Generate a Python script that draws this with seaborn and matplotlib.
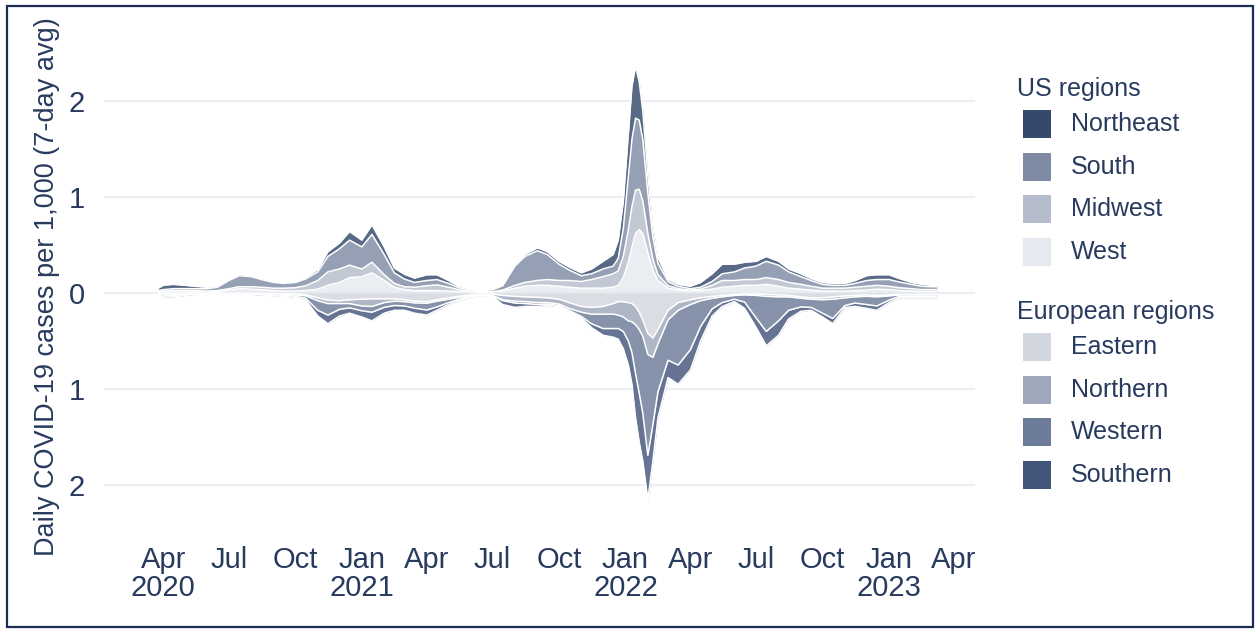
import matplotlib
matplotlib.use("Agg")
import matplotlib.pyplot as plt
from matplotlib.patches import Rectangle
from matplotlib.ticker import FuncFormatter
import numpy as np
import pandas as pd
import seaborn as sns

# ---------------------------------------------------------------------------
# Daily COVID-19 cases per 1,000 (7-day average), stacked by region.
# US regions stack upward, European regions stack downward.
# ---------------------------------------------------------------------------
dates = pd.to_datetime([
    # 2020
    "2020-03-25", "2020-04-01", "2020-04-15", "2020-05-01", "2020-05-15",
    "2020-06-01", "2020-06-15", "2020-07-01", "2020-07-15", "2020-08-01",
    "2020-08-15", "2020-09-01", "2020-09-15", "2020-10-01", "2020-10-15",
    "2020-11-01", "2020-11-15", "2020-12-01", "2020-12-15",
    # 2021
    "2021-01-01", "2021-01-15", "2021-02-01", "2021-02-15", "2021-03-01",
    "2021-03-15", "2021-04-01", "2021-04-15", "2021-05-01", "2021-05-15",
    "2021-06-01", "2021-06-15", "2021-07-01", "2021-07-15", "2021-08-01",
    "2021-08-15", "2021-09-01", "2021-09-15", "2021-10-01", "2021-10-15",
    "2021-11-01", "2021-11-15", "2021-12-01", "2021-12-15", "2021-12-22",
    "2021-12-29",
    # 2022
    "2022-01-05", "2022-01-10", "2022-01-15", "2022-01-20", "2022-01-25",
    "2022-02-01", "2022-02-08", "2022-02-15", "2022-03-01", "2022-03-15",
    "2022-04-01", "2022-04-15", "2022-05-01", "2022-05-15", "2022-06-01",
    "2022-06-15", "2022-07-01", "2022-07-15", "2022-08-01", "2022-08-15",
    "2022-09-01", "2022-09-15", "2022-10-01", "2022-10-15", "2022-11-01",
    "2022-11-15", "2022-12-01", "2022-12-15",
    # 2023
    "2023-01-01", "2023-01-15", "2023-02-01", "2023-02-15", "2023-03-01",
    "2023-03-08",
])

# US regions (stacked upward, West nearest the zero line)
us_west = [
    .01, .01, .01, .01, .01, .01, .015, .03, .045, .04,
    .035, .025, .02, .02, .025, .04, .08, .11, .16,
    .17, .21, .13, .06, .035, .025, .025, .025, .02, .015,
    .01, .008, .01, .02, .05, .07, .08, .08, .07, .06,
    .05, .05, .05, .06, .08, .16,
    .32, .48, .62, .66, .62, .42, .24, .13, .05, .03,
    .02, .025, .04, .06, .07, .08, .08, .09, .07, .05,
    .04, .03, .02, .02, .02, .025, .03, .04,
    .035, .025, .02, .015, .015, .015,
]
us_midwest = [
    .005, .01, .015, .015, .015, .01, .01, .015, .02, .025,
    .025, .025, .03, .035, .05, .09, .14, .14, .13,
    .08, .11, .06, .04, .03, .035, .05, .06, .04, .02,
    .01, .005, .005, .01, .03, .04, .05, .06, .06, .07,
    .07, .09, .12, .14, .15, .22,
    .34, .42, .45, .42, .34, .20, .11, .06, .025, .015,
    .01, .015, .04, .07, .06, .06, .06, .07, .07, .06,
    .05, .04, .03, .03, .03, .035, .04, .04,
    .035, .03, .025, .02, .02, .02,
]
us_south = [
    .01, .015, .02, .02, .02, .025, .035, .085, .115, .105,
    .08, .06, .05, .055, .07, .09, .16, .21, .26,
    .23, .29, .21, .11, .08, .05, .055, .055, .04, .02,
    .01, .012, .02, .045, .20, .27, .31, .26, .17, .11,
    .06, .06, .08, .08, .13, .29,
    .55, .70, .75, .72, .64, .42, .23, .12, .045, .025,
    .015, .02, .04, .07, .09, .12, .14, .17, .15, .11,
    .08, .06, .04, .03, .03, .04, .06, .06,
    .07, .06, .045, .035, .03, .03,
]
us_northeast = [
    .025, .045, .045, .035, .025, .015, .01, .01, .01, .01,
    .01, .01, .01, .01, .015, .025, .05, .06, .09,
    .07, .10, .08, .05, .05, .045, .06, .05, .03, .015,
    .01, .005, .005, .005, .02, .02, .03, .03, .03, .03,
    .03, .05, .08, .12, .19, .28,
    .44, .55, .54, .40, .30, .18, .10, .06, .02, .02,
    .025, .05, .08, .10, .08, .06, .05, .05, .04, .03,
    .03, .02, .02, .02, .02, .03, .05, .05,
    .05, .035, .02, .02, .015, .015,
]

# European regions (stacked downward, Eastern nearest the zero line)
eu_eastern = [
    .004, .005, .007, .007, .006, .005, .005, .005, .005, .005,
    .006, .007, .009, .012, .018, .05, .075, .08, .07,
    .065, .06, .06, .06, .07, .085, .09, .07, .05, .035,
    .018, .01, .01, .025, .035, .04, .045, .05, .065, .10,
    .14, .15, .14, .11, .09, .09,
    .10, .11, .14, .20, .28, .42, .47, .38, .18, .10,
    .07, .05, .035, .025, .015, .01, .01, .015, .02, .025,
    .04, .05, .05, .04, .03, .025, .02, .025,
    .02, .015, .015, .015, .015, .015,
]
eu_northern = [
    .002, .005, .006, .005, .003, .002, .001, .001, .001, .001,
    .002, .003, .005, .007, .011, .03, .035, .03, .04,
    .07, .08, .04, .025, .02, .018, .017, .015, .015, .012,
    .01, .01, .017, .045, .05, .05, .055, .05, .05, .06,
    .06, .07, .08, .11, .14, .16,
    .19, .19, .19, .18, .17, .22, .20, .15, .10, .08,
    .05, .03, .02, .015, .01, .01, .015, .02, .02, .015,
    .015, .015, .02, .025, .02, .015, .015, .015,
    .01, .005, .005, .005, .005, .005,
]
eu_western = [
    .006, .012, .012, .006, .003, .001, .001, .002, .002, .004,
    .005, .009, .01, .014, .025, .10, .12, .06, .045,
    .05, .06, .05, .045, .045, .055, .07, .06, .035, .02,
    .007, .003, .003, .01, .02, .02, .02, .015, .015, .02,
    .045, .10, .15, .15, .14, .15,
    .21, .32, .51, .66, .80, 1.05, .70, .50, .42, .57,
    .47, .27, .11, .06, .04, .075, .235, .365, .25, .14,
    .09, .085, .14, .20, .08, .065, .085, .095,
    .045, .015, .015, .015, .015, .015,
]
eu_southern = [
    .008, .018, .015, .007, .003, .002, .003, .002, .002, .005,
    .007, .011, .011, .012, .016, .06, .09, .07, .055,
    .065, .09, .06, .05, .045, .052, .053, .035, .02, .013,
    .005, .002, .007, .04, .045, .03, .02, .015, .01, .01,
    .015, .04, .07, .09, .11, .18,
    .25, .33, .46, .51, .50, .46, .38, .27, .18, .20,
    .21, .15, .075, .04, .025, .065, .10, .15, .15, .09,
    .045, .03, .04, .055, .02, .035, .04, .045,
    .025, .015, .015, .015, .015, .015,
]

us_names = ["Northeast", "South", "Midwest", "West"]
eu_names = ["Eastern", "Northern", "Western", "Southern"]

x_ticks = pd.date_range("2020-04-01", "2023-04-01", freq="QS")
x_tick_labels = ["Apr\n2020", "Jul", "Oct", "Jan\n2021", "Apr", "Jul", "Oct",
                 "Jan\n2022", "Apr", "Jul", "Oct", "Jan\n2023", "Apr"]
y_ticks = [-2, -1, 0, 1, 2]

# ---------------------------------------------------------------------------
sns.set_theme(style="white")
plt.rcParams["font.family"] = ["Liberation Sans", "DejaVu Sans"]

INK = "#283a5e"
US_COLORS = {"Northeast": "#35496d", "South": "#7f8ba4",
             "Midwest": "#b5bccb", "West": "#e6e9ef"}
EU_COLORS = {"Eastern": "#d2d6de", "Northern": "#9ea8ba",
             "Western": "#6b7b99", "Southern": "#42557a"}

W, H = 1260, 632
fig = plt.figure(figsize=(W / 100, H / 100), dpi=100)
fig.patch.set_facecolor("white")
ax = fig.add_axes([104 / W, 1 - 538 / H, 871 / W, 490 / H])


def draw_stack(layers, sign):
    base = np.zeros(len(dates))
    for vals, color in layers:
        top = base + np.asarray(vals, dtype=float)
        ax.fill_between(dates, sign * base, sign * top, color=color,
                        lw=0, alpha=0.82, zorder=2)
        sns.lineplot(x=dates, y=sign * top, color="white", lw=1.1,
                     ax=ax, zorder=3, legend=False)
        base = top


draw_stack([(us_west, US_COLORS["West"]), (us_midwest, US_COLORS["Midwest"]),
            (us_south, US_COLORS["South"]),
            (us_northeast, US_COLORS["Northeast"])], 1)
draw_stack([(eu_eastern, EU_COLORS["Eastern"]),
            (eu_northern, EU_COLORS["Northern"]),
            (eu_western, EU_COLORS["Western"]),
            (eu_southern, EU_COLORS["Southern"])], -1)

ax.set_xlim(pd.Timestamp("2020-01-10"), pd.Timestamp("2023-04-30"))
ax.set_ylim(-2.55, 2.55)
ax.set_yticks(y_ticks)
ax.yaxis.set_major_formatter(FuncFormatter(lambda v, _: f"{abs(v):g}"))
ax.set_xticks(x_ticks)
ax.set_xticklabels(x_tick_labels, linespacing=1.0)
ax.grid(axis="y", color="#eceef3", lw=1.6)
ax.grid(axis="x", visible=False)
ax.set_axisbelow(True)
sns.despine(ax=ax, left=True, bottom=True)
ax.tick_params(axis="both", length=0, labelsize=21, labelcolor=INK)
ax.tick_params(axis="x", pad=6)
ax.tick_params(axis="y", pad=14)
ax.set_xlabel("")
ax.set_ylabel("Daily COVID-19 cases per 1,000 (7-day avg)", fontsize=19.5,
              color=INK)
ax.yaxis.set_label_coords(-0.051, 0.514)


# Legend blocks on the right
def legend_block(title, names, colors, title_y, first_y):
    fig.text(1017 / W, 1 - title_y / H, title, fontsize=18, color=INK,
             ha="left", va="center")
    for i, name in enumerate(names):
        yc = first_y + i * 42.7
        fig.add_artist(Rectangle((1023 / W, 1 - (yc + 14) / H), 28 / W, 28 / H,
                                 transform=fig.transFigure,
                                 facecolor=colors[name], edgecolor="none"))
        fig.text(1071 / W, 1 - yc / H, name, fontsize=18, color=INK,
                 ha="left", va="center")


legend_block("US regions", us_names, US_COLORS, 89, 124)
legend_block("European regions", eu_names, EU_COLORS, 312, 347)

# Outer frame
fig.add_artist(Rectangle((7 / W, 5 / H), 1246 / W, 621 / H,
                         transform=fig.transFigure, fill=False,
                         edgecolor="#1e2d54", lw=1.6))

fig.savefig("out.png", dpi=100)
